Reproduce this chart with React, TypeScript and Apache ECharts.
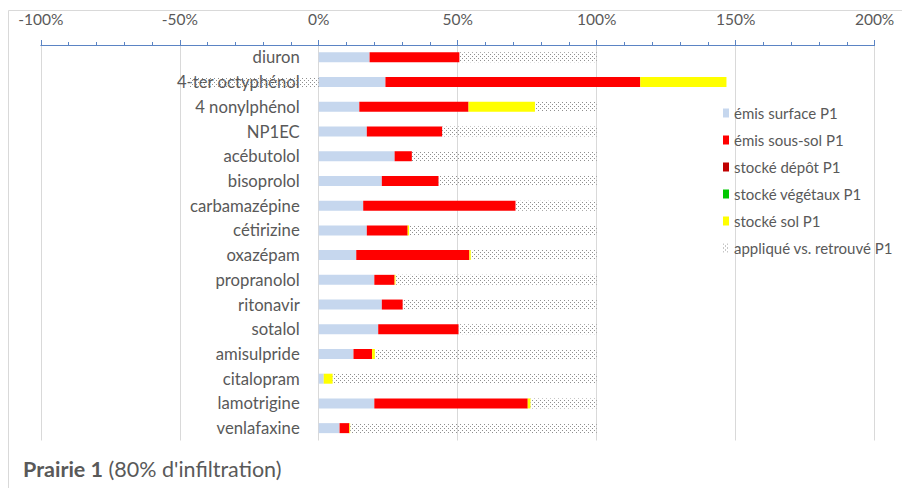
import React, { useEffect, useRef } from 'react';
import * as echarts from 'echarts';

const categories = [
  'diuron', '4-ter octyphénol', '4 nonylphénol', 'NP1EC', 'acébutolol', 'bisoprolol',
  'carbamazépine', 'cétirizine', 'oxazépam', 'propranolol', 'ritonavir', 'sotalol',
  'amisulpride', 'citalopram', 'lamotrigine', 'venlafaxine',
];
const emisSurface = [18.3, 24.0, 14.6, 17.3, 27.3, 22.7, 16.0, 17.3, 13.5, 20.0, 22.7, 21.4, 12.5, 1.8, 20.0, 7.5];
const emisSousSol = [32.3, 91.7, 39.3, 27.1, 6.2, 20.4, 54.8, 14.7, 40.7, 7.3, 7.5, 28.9, 6.7, 0, 55.2, 3.5];
const stockeDepot = [0, 0, 0, 0, 0, 0, 0, 0, 0, 0, 0, 0, 0, 0, 0, 0];
const stockeVegetaux = [0, 0, 0, 0, 0, 0, 0, 0, 0, 0, 0, 0, 0, 0, 0, 0];
const stockeSol = [0, 31.0, 23.9, 0, 0, 0, 0, 0.5, 0.5, 0.3, 0, 0, 1.0, 3.2, 1.0, 0.3];
const appliqueVsRetrouve = [49.4, -46.7, 22.2, 55.6, 66.5, 56.9, 29.2, 67.5, 45.3, 72.4, 69.8, 49.7, 79.8, 95.0, 23.8, 88.7];

const seriesNames = [
  'émis surface P1', 'émis sous-sol P1', 'stocké dépôt P1',
  'stocké végétaux P1', 'stocké sol P1', 'appliqué vs. retrouvé P1',
];
const xMin = -100;
const xMax = 200;
const xInterval = 50;

const FONT = 'Lato';
const GRAY = '#595959';

function makeDots() {
  const c = document.createElement('canvas');
  c.width = 4;
  c.height = 4;
  const ctx = c.getContext('2d')!;
  ctx.clearRect(0, 0, 4, 4);
  ctx.fillStyle = '#8f8f8f';
  ctx.fillRect(0, 0, 1, 1);
  ctx.fillRect(2, 2, 1, 1);
  return c;
}

export default function App() {
  const ref = useRef<HTMLDivElement>(null);
  useEffect(() => {
    if (!ref.current) return;
    const chart = echarts.init(ref.current, null, { renderer: 'svg' });
    const dots = makeDots();
    const pattern: any = { image: dots, repeat: 'repeat', imageWidth: 4, imageHeight: 4 };
    const colors = ['#c6d7ee', '#ff0000', '#c00000', '#00c800', '#ffff00'];
    const datas = [emisSurface, emisSousSol, stockeDepot, stockeVegetaux, stockeSol, appliqueVsRetrouve];
    const series = datas.map((d, i) => ({
      name: seriesNames[i],
      type: 'bar',
      stack: 'total',
      barWidth: 10,
      data: d,
      itemStyle: { color: i < 5 ? colors[i] : pattern },
      emphasis: { disabled: true },
    }));
    const gridLeft = 40.8;
    const gridRight = 27.4;
    chart.setOption({
      animation: false,
      backgroundColor: '#ffffff',
      grid: {
        left: gridLeft,
        right: gridRight,
        top: 45,
        height: 395.5,
        containLabel: false,
        outerBoundsMode: 'none',
      } as any,
      xAxis: {
        type: 'value',
        position: 'top',
        min: xMin,
        max: xMax,
        interval: xInterval,
        axisLine: { show: true, onZero: false, lineStyle: { color: '#5b84c4', width: 1 } },
        axisTick: { show: true, inside: false, length: 5, lineStyle: { color: '#5b84c4' } },
        minorTick: { show: true, splitNumber: 5, length: 3, lineStyle: { color: '#5b84c4' } },
        splitLine: { show: true, lineStyle: { color: '#d9d9d9', width: 1 } },
        axisLabel: {
          formatter: (v: number) => `${v}%`,
          margin: 18,
          fontFamily: FONT,
          fontSize: 15.5,
          color: GRAY,
        },
      },
      yAxis: {
        type: 'category',
        data: categories,
        inverse: true,
        position: 'left',
        offset: -((902 - gridLeft - gridRight) / 3),
        axisLine: { show: false, onZero: false },
        axisTick: { show: false },
        splitLine: { show: false },
        axisLabel: {
          margin: 19,
          fontFamily: FONT,
          fontSize: 16.7,
          color: GRAY,
        },
      },
      legend: {
        orient: 'vertical',
        left: 718,
        top: 100,
        itemWidth: 6,
        itemHeight: 9,
        itemGap: 11,
        icon: 'rect',
        data: seriesNames,
        selectedMode: false,
        textStyle: { fontFamily: FONT, fontSize: 15, color: GRAY, lineHeight: 16 },
      },
      graphic: [
        {
          type: 'rect',
          shape: { x: 8.5, y: 10.5, width: 1000, height: 1000 },
          style: { fill: 'none', stroke: '#d9d9d9', lineWidth: 1 },
          silent: true,
          z: -10,
        },
        {
          type: 'text',
          left: 23,
          top: 458,
          style: {
            text: "{b|Prairie 1} {n|(80% d'infiltration)}",
            fill: GRAY,
            font: `21.5px ${FONT}`,
            rich: {
              b: { fontWeight: 'bold', fontSize: 21.5, fontFamily: FONT, fill: GRAY },
              n: { fontSize: 21.5, fontFamily: FONT, fill: GRAY },
            },
          },
        },
      ],
      series,
    } as any);
    return () => chart.dispose();
  }, []);
  return (
    <div
      ref={ref}
      style={{ position: 'fixed', left: 0, top: 0, width: 902, height: 488, background: '#fff' }}
    />
  );
}
